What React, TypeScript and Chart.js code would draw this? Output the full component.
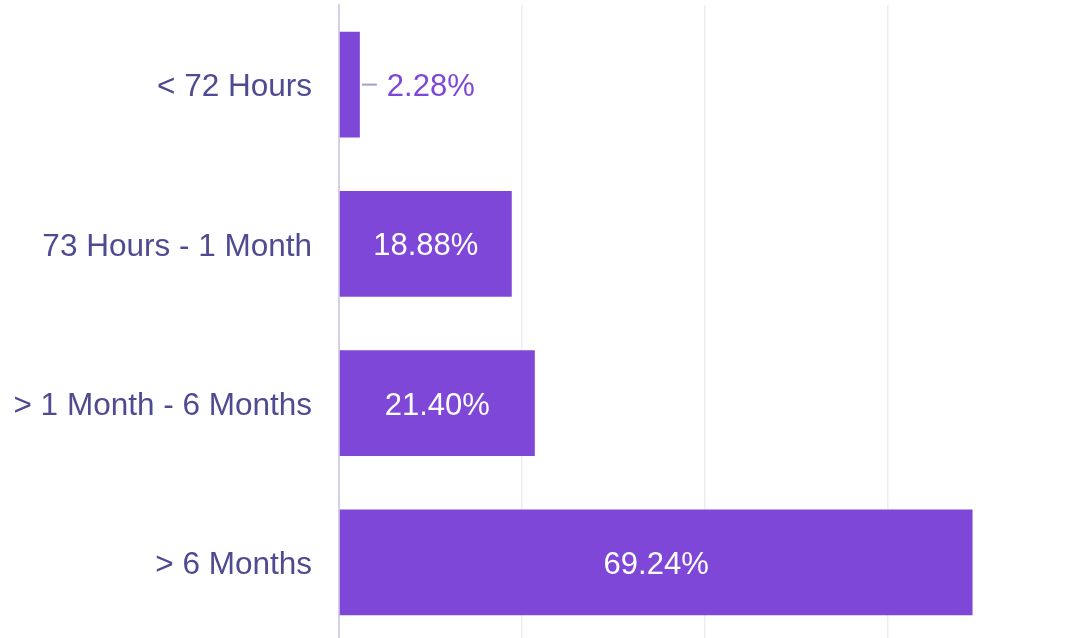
import React, { useEffect, useRef } from "react";
import { Chart, registerables } from "chart.js";

Chart.register(...registerables);

const categories = ["< 72 Hours", "73 Hours - 1 Month", "> 1 Month - 6 Months", "> 6 Months"];
const values = [2.28, 18.88, 21.4, 69.24];
const valueLabels = ["2.28%", "18.88%", "21.40%", "69.24%"];

const BAR = "#7E47D8";
const LABEL = "#4F4B93";
const FONT = "'Liberation Sans', Arial, sans-serif";

const labelPlugin = {
  id: "barLabels",
  afterDatasetsDraw(chart: any) {
    const ctx = chart.ctx;
    const meta = chart.getDatasetMeta(0);
    ctx.save();
    ctx.font = `31px ${FONT}`;
    ctx.textBaseline = "middle";
    meta.data.forEach((bar: any, i: number) => {
      const w = bar.x - bar.base;
      const txt = valueLabels[i];
      if (w > 120) {
        ctx.fillStyle = "#ffffff";
        ctx.textAlign = "center";
        ctx.fillText(txt, (bar.x + bar.base) / 2, bar.y + 3);
      } else {
        ctx.strokeStyle = "#A39FCB";
        ctx.lineWidth = 2;
        ctx.beginPath();
        ctx.moveTo(bar.x + 2, bar.y);
        ctx.lineTo(bar.x + 17, bar.y);
        ctx.stroke();
        ctx.fillStyle = BAR;
        ctx.textAlign = "left";
        ctx.fillText(txt, bar.x + 27, bar.y + 3);
      }
    });
    ctx.restore();
  },
};

export default function App() {
  const ref = useRef<HTMLCanvasElement>(null);
  useEffect(() => {
    if (!ref.current) return;
    const chart = new Chart(ref.current, {
      type: "bar",
      data: {
        labels: categories,
        datasets: [
          {
            data: values,
            backgroundColor: BAR,
            borderWidth: 0,
            barPercentage: 0.665,
            categoryPercentage: 1,
          },
        ],
      },
      plugins: [labelPlugin],
      options: {
        indexAxis: "y",
        responsive: false,
        animation: false,
        maintainAspectRatio: false,
        layout: { padding: { top: 5, bottom: 4, left: 0, right: 0 } },
        plugins: { legend: { display: false }, tooltip: { enabled: false } },
        scales: {
          x: {
            min: 0,
            max: 80,
            ticks: { display: false, stepSize: 20 },
            grid: { color: "#EDEDF0", lineWidth: 1.5, drawTicks: false },
            border: { display: false },
          },
          y: {
            ticks: {
              color: LABEL,
              font: { family: FONT, size: 31.5 },
              padding: 27,
              labelOffset: 3,
            },
            grid: { display: false, drawTicks: false },
            border: { display: true, color: "#D5CFEC", width: 2 },
            afterFit: (scale: any) => {
              scale.width = 339;
              scale.paddingTop = 0;
              scale.paddingBottom = 0;
            },
          },
        },
      },
    });
    return () => chart.destroy();
  }, []);
  return (
    <div style={{ position: "fixed", left: 0, top: 0, width: 1071, height: 646, background: "#fff" }}>
      <canvas ref={ref} width={1071} height={646} style={{ display: "block" }} />
    </div>
  );
}
